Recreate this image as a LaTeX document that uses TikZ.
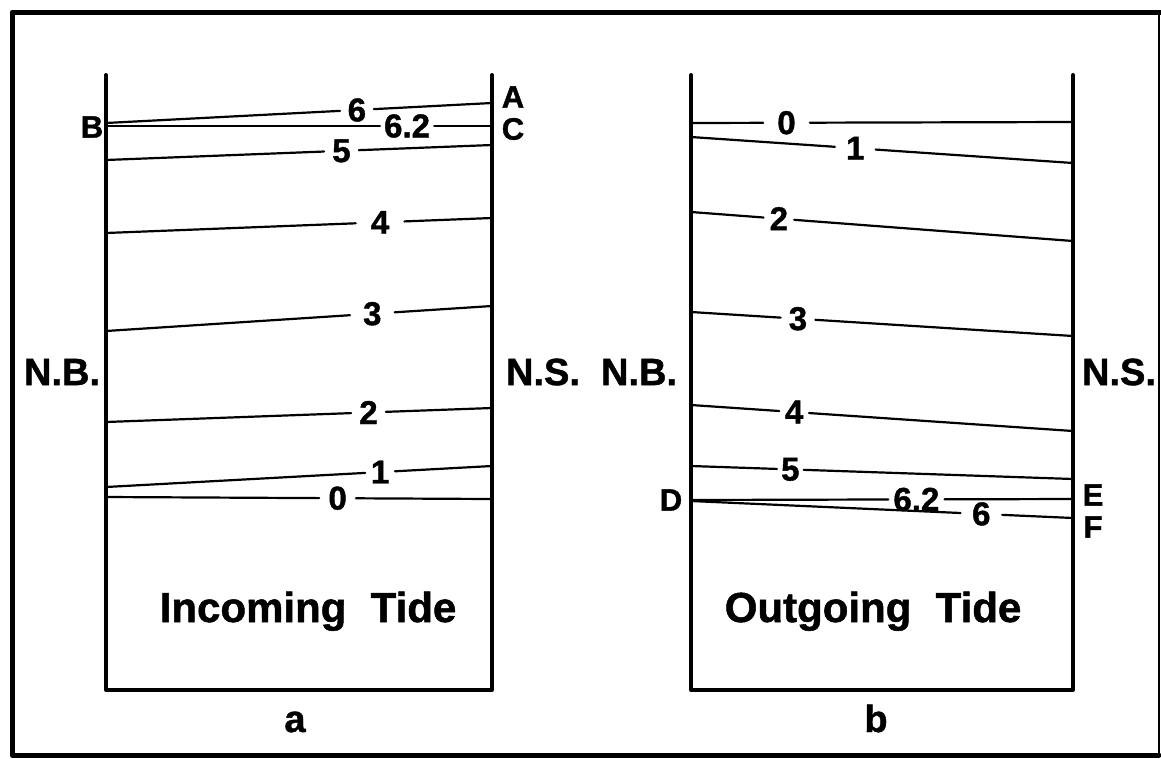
\documentclass[tikz,border=0pt]{standalone}
\usepackage{fontspec}
\setmainfont{Liberation Sans}[BoldFeatures={FakeBold=1.2}]
\tikzset{
  frameline/.style={line width=5pt, line cap=round, line join=round},
  wall/.style={line width=4pt, line cap=round, line join=round},
  trans/.style={line width=2.2pt, line cap=round},
  tlab/.style={font=\bfseries\fontsize{33}{33}\selectfont, inner ysep=1pt, inner xsep=#1},
  tlab/.default=9pt,
  letter/.style={font=\bfseries\fontsize{31}{31}\selectfont, inner sep=0pt},
  side/.style={font=\bfseries\fontsize{38}{38}\selectfont, inner sep=0pt},
  title/.style={font=\bfseries\fontsize{42}{42}\selectfont, inner sep=0pt, anchor=base},
  panelname/.style={font=\bfseries\fontsize{38}{38}\selectfont, inner sep=0pt, anchor=base},
}
\begin{document}
\begin{tikzpicture}[x=1pt, y=-1pt]
\useasboundingbox (0,0) rectangle (1161,758);

% outer frame
\draw[frameline] (1161,12) -- (12,12) -- (12,755) -- (1159,755);
\draw[line width=1.2pt] (1159,12) -- (1159,755);

% channel walls: panel a and panel b
\draw[wall] (106,75) -- (106,690) -- (492,690) -- (492,75);
\draw[wall] (691,75) -- (691,690) -- (1073,690) -- (1073,75);

% panel a: incoming tide transects
\foreach \id/\yl/\yr/\p/\sep/\txt in {
  6/123/103/0.65/7.5pt/6,
  62/126/126/0.78/4pt/6.2,
  5/160/145/0.61/8pt/5,
  4/233/218/0.71/15pt/4,
  3/331/306/0.69/13pt/3,
  2/422/408/0.68/8pt/2,
  1/487/466/0.71/5.5pt/1,
  0/497/499/0.60/9pt/0}
{
  \coordinate (aL\id) at (106,\yl);
  \coordinate (aR\id) at (492,\yr);
  \path (aL\id) -- node[tlab=\sep, pos=\p] (a\id) {\txt} (aR\id);
  \draw[trans] (aL\id) -- (a\id) -- (aR\id);
}

% panel b: outgoing tide transects
\foreach \id/\yl/\yr/\p/\sep/\txt in {
  0/123/122/0.25/14pt/0,
  1/137/163/0.43/11pt/1,
  2/212/241/0.23/6pt/2,
  3/312/336/0.28/8pt/3,
  4/405/431/0.27/5.5pt/4,
  5/466/479/0.26/4pt/5,
  62/500/499/0.59/5pt/6.2,
  6/501/518/0.76/11.5pt/6}
{
  \coordinate (bL\id) at (691,\yl);
  \coordinate (bR\id) at (1073,\yr);
  \path (bL\id) -- node[tlab=\sep, pos=\p] (b\id) {\txt} (bR\id);
  \draw[trans] (bL\id) -- (b\id) -- (bR\id);
}

% end point letters
\node[letter] (A) at (513,97) {A};
\node[letter] (C) at (513,129) {C};
\node[letter] (B) at (92,127) {B};
\node[letter] (D) at (671,500) {D};
\node[letter] (E) at (1093,495) {E};
\node[letter] (F) at (1093,527) {F};

% banks
\node[side] (nba) at (62,372) {N.B.};
\node[side] (nsa) at (543,372) {N.S.};
\node[side] (nbb) at (639,372) {N.B.};
\node[side] (nsb) at (1119,372) {N.S.};

% titles and panel letters
\node[title] (ta) at (308,622) {Incoming\hspace{0.3em} Tide};
\node[title] (tb) at (873,622) {Outgoing\hspace{0.3em} Tide};
\node[panelname] (pa) at (295,732) {a};
\node[panelname] (pb) at (876,732) {b};
\end{tikzpicture}
\end{document}
